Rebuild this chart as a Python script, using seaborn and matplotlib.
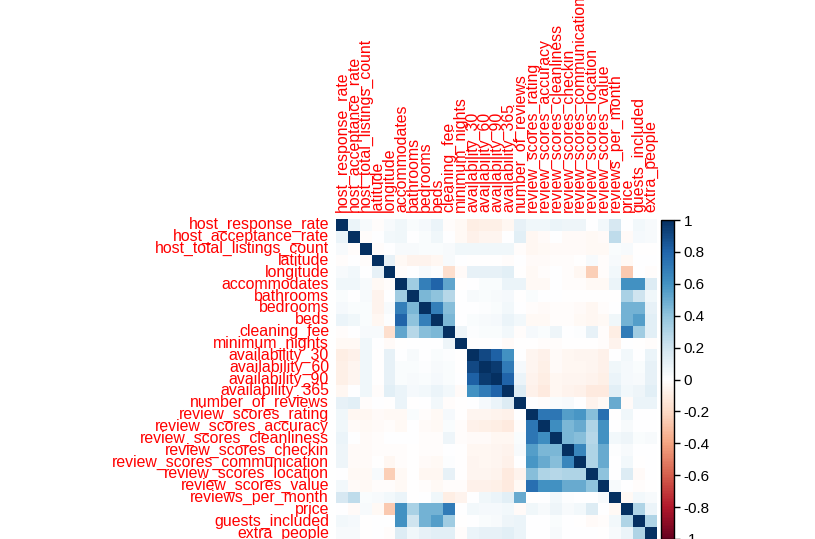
import numpy as np
import pandas as pd
import matplotlib
matplotlib.use("Agg")
import matplotlib.pyplot as plt
import seaborn as sns
from matplotlib.colors import LinearSegmentedColormap

variables = [
    "host_response_rate", "host_acceptance_rate", "host_total_listings_count",
    "latitude", "longitude", "accommodates", "bathrooms", "bedrooms", "beds",
    "cleaning_fee", "minimum_nights", "availability_30", "availability_60",
    "availability_90", "availability_365", "number_of_reviews",
    "review_scores_rating", "review_scores_accuracy", "review_scores_cleanliness",
    "review_scores_checkin", "review_scores_communication",
    "review_scores_location", "review_scores_value", "reviews_per_month",
    "price", "guests_included", "extra_people",
]

# upper triangle, row i holds correlations with columns i+1 .. end
upper = [
    [0.08, 0.03, -0.02, 0.03, 0.06, 0.02, 0.04, 0.08, -0.02, -0.04, -0.10, -0.09, -0.09,
     -0.05, 0.10, 0.06, 0.06, 0.08, 0.07, 0.07, 0.00, 0.05, 0.17, 0.00, 0.05, 0.03],
    [-0.02, 0.00, 0.05, 0.06, 0.00, 0.02, 0.06, 0.00, -0.04, -0.08, -0.06, -0.06, 0.00,
     0.12, -0.05, -0.03, 0.00, -0.03, -0.03, -0.04, -0.03, 0.25, -0.03, 0.04, 0.03],
    [-0.02, 0.00, 0.03, 0.03, 0.02, 0.02, 0.03, 0.06, 0.06, 0.06, 0.06, 0.06, -0.02,
     -0.05, -0.04, -0.03, -0.03, -0.03, -0.04, -0.04, 0.02, 0.03, -0.01, -0.01],
    [0.10, -0.04, -0.07, -0.07, -0.05, 0.03, 0.00, -0.01, -0.01, -0.01, -0.02, 0.00,
     -0.03, -0.03, -0.02, -0.02, -0.01, 0.03, -0.02, 0.03, -0.04, 0.00, 0.00],
    [-0.02, 0.00, 0.03, 0.01, -0.18, -0.03, 0.10, 0.10, 0.10, 0.12, -0.01, -0.04,
     -0.02, 0.00, -0.02, -0.05, -0.25, -0.02, 0.05, -0.27, 0.00, -0.02],
    [0.35, 0.68, 0.80, 0.52, -0.01, 0.00, 0.02, 0.02, 0.08, 0.08, -0.04, -0.04, 0.00,
     -0.02, -0.02, -0.04, -0.04, 0.08, 0.60, 0.60, 0.15],
    [0.45, 0.40, 0.28, 0.00, 0.03, 0.02, 0.03, 0.04, -0.01, 0.02, 0.00, 0.00, -0.01,
     -0.01, -0.01, -0.01, -0.01, 0.32, 0.20, 0.06],
    [0.68, 0.42, 0.00, 0.00, 0.01, 0.02, 0.05, 0.00, -0.02, -0.03, -0.02, -0.02, -0.03,
     -0.05, -0.02, 0.00, 0.47, 0.47, 0.10],
    [0.45, 0.00, 0.02, 0.03, 0.04, 0.08, 0.05, -0.04, -0.04, -0.02, -0.02, -0.04, -0.05,
     -0.04, 0.06, 0.47, 0.55, 0.12],
    [0.07, 0.01, 0.02, 0.02, 0.05, -0.02, 0.04, 0.02, 0.07, 0.00, 0.01, 0.10, -0.02,
     -0.10, 0.70, 0.35, 0.12],
    [-0.01, -0.01, 0.00, -0.03, -0.01, -0.01, -0.02, -0.02, -0.01, -0.01, -0.01, -0.02,
     -0.07, 0.00, -0.01, -0.02],
    [0.90, 0.82, 0.60, 0.00, -0.06, -0.08, -0.03, -0.05, -0.06, -0.06, -0.08, 0.00,
     0.05, 0.00, 0.08],
    [0.95, 0.70, 0.04, -0.06, -0.09, -0.03, -0.05, -0.05, -0.06, -0.08, 0.06, 0.04,
     0.02, 0.10],
    [0.80, 0.08, -0.07, -0.10, -0.05, -0.06, -0.06, -0.07, -0.09, 0.08, 0.04, 0.03, 0.10],
    [0.15, -0.08, -0.12, -0.05, -0.07, -0.08, -0.12, -0.12, 0.12, 0.05, 0.07, 0.12],
    [0.00, -0.02, 0.02, 0.03, 0.00, -0.07, -0.04, 0.50, -0.03, 0.08, 0.08],
    [0.72, 0.72, 0.55, 0.58, 0.42, 0.75, -0.01, 0.06, 0.00, 0.00],
    [0.62, 0.45, 0.50, 0.30, 0.60, 0.00, 0.03, 0.00, 0.00],
    [0.45, 0.42, 0.28, 0.60, 0.05, 0.07, 0.02, 0.03],
    [0.65, 0.30, 0.50, 0.01, 0.03, 0.00, 0.00],
    [0.30, 0.50, 0.00, 0.05, -0.01, 0.00],
    [0.40, 0.00, 0.15, -0.03, 0.00],
    [0.03, 0.00, -0.02, -0.01],
    [-0.04, 0.05, 0.03],
    [0.30, 0.08],
    [0.30],
]

n = len(variables)
corr = np.eye(n)
for i, row in enumerate(upper):
    for k, v in enumerate(row):
        corr[i, i + 1 + k] = v
        corr[i + 1 + k, i] = v
df = pd.DataFrame(corr, index=variables, columns=variables)

# corrplot-like palette
cmap = LinearSegmentedColormap.from_list(
    "corr",
    ["#67001F", "#B2182B", "#D6604D", "#F4A582", "#FDDBC7", "#FFFFFF",
     "#D1E5F0", "#92C5DE", "#4393C3", "#2166AC", "#053061"],
    N=200,
)

plt.rcParams["font.family"] = ["Liberation Sans", "DejaVu Sans"]

W, H = 815, 539
fig = plt.figure(figsize=(W / 100, H / 100), dpi=100)
ax = fig.add_axes([336 / W, 0, 321 / W, 320 / H])
cax = fig.add_axes([661 / W, 0, 13 / W, 319 / H])

sns.heatmap(df, ax=ax, cbar_ax=cax, cmap=cmap, vmin=-1, vmax=1, linewidths=0)

ax.xaxis.tick_top()
ax.set_xticks(np.arange(n) + 0.5)
ax.set_xticklabels(variables, rotation=90, color="red", fontsize=11.4)
ax.set_yticks(np.arange(n) + 0.5)
ax.set_yticklabels(variables, rotation=0, color="red", fontsize=11.4)
ax.tick_params(length=0, pad=5)
ax.set_xlabel("")
ax.set_ylabel("")

cb = ax.collections[0].colorbar
ticks = np.round(np.linspace(-1, 1, 11), 1)
cb.set_ticks(ticks)
cb.set_ticklabels([f"{t:g}" for t in ticks])
cb.outline.set_linewidth(1)
cb.outline.set_edgecolor("black")
cax.tick_params(labelsize=11, length=4, width=1, colors="black", pad=3)

fig.savefig("out.png", dpi=100)
